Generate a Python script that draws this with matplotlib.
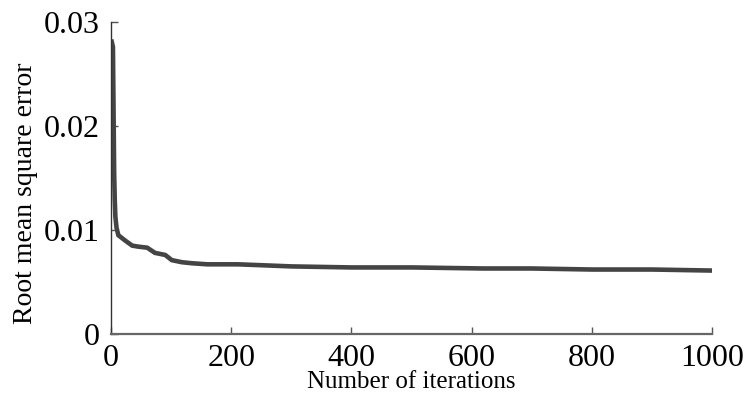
import numpy as np
import matplotlib.pyplot as plt

# RMSE vs iteration
iters = [1, 3, 4, 5, 6, 7, 9, 12, 23, 35, 45, 60, 73, 90, 101, 118, 135,
         160, 211, 256, 300, 400, 500, 619, 700, 800, 900, 1000]
rmse = [0.0281, 0.0276, 0.0215, 0.0155, 0.0129, 0.0113, 0.0102, 0.0095,
        0.0090, 0.0085, 0.0084, 0.0083, 0.0078, 0.0076, 0.0071, 0.0069,
        0.0068, 0.0067, 0.0067, 0.0066, 0.0065, 0.0064, 0.0064, 0.0063,
        0.0063, 0.0062, 0.0062, 0.0061]

xticks = [0, 200, 400, 600, 800, 1000]
yticks = [0, 0.01, 0.02, 0.03]
ytick_labels = ["0", "0.01", "0.02", "0.03"]

plt.rcParams['font.family'] = ['Liberation Serif', 'DejaVu Serif']

fig = plt.figure(figsize=(7.51, 4.0), dpi=100)
ax = fig.add_axes([0.148, 0.165, 0.800, 0.78])

ax.plot(iters, rmse, color="#444444", lw=3.3, solid_joinstyle="miter")

ax.set_xlim(0, 1000)
ax.set_ylim(0, 0.03)
ax.set_xticks(xticks)
ax.set_xticklabels([str(t) for t in xticks])
ax.set_yticks(yticks)
ax.set_yticklabels(ytick_labels)

for s in ["top", "right"]:
    ax.spines[s].set_visible(False)
ax.spines["left"].set_color("#333333")
ax.spines["left"].set_linewidth(1.0)
ax.spines["bottom"].set_color("#666666")
ax.spines["bottom"].set_linewidth(1.6)

ax.tick_params(direction="in", length=5, width=1, colors="#555555",
               labelcolor="black", labelsize=23)
ax.tick_params(axis="x", pad=7)
ax.tick_params(axis="y", pad=8)

ax.set_xlabel("Number of iterations", fontsize=18, labelpad=-1)
ax.set_ylabel("Root mean square error", fontsize=20)
ax.yaxis.set_label_coords(-0.122, 0.45)

fig.savefig("out.png", dpi=100)
